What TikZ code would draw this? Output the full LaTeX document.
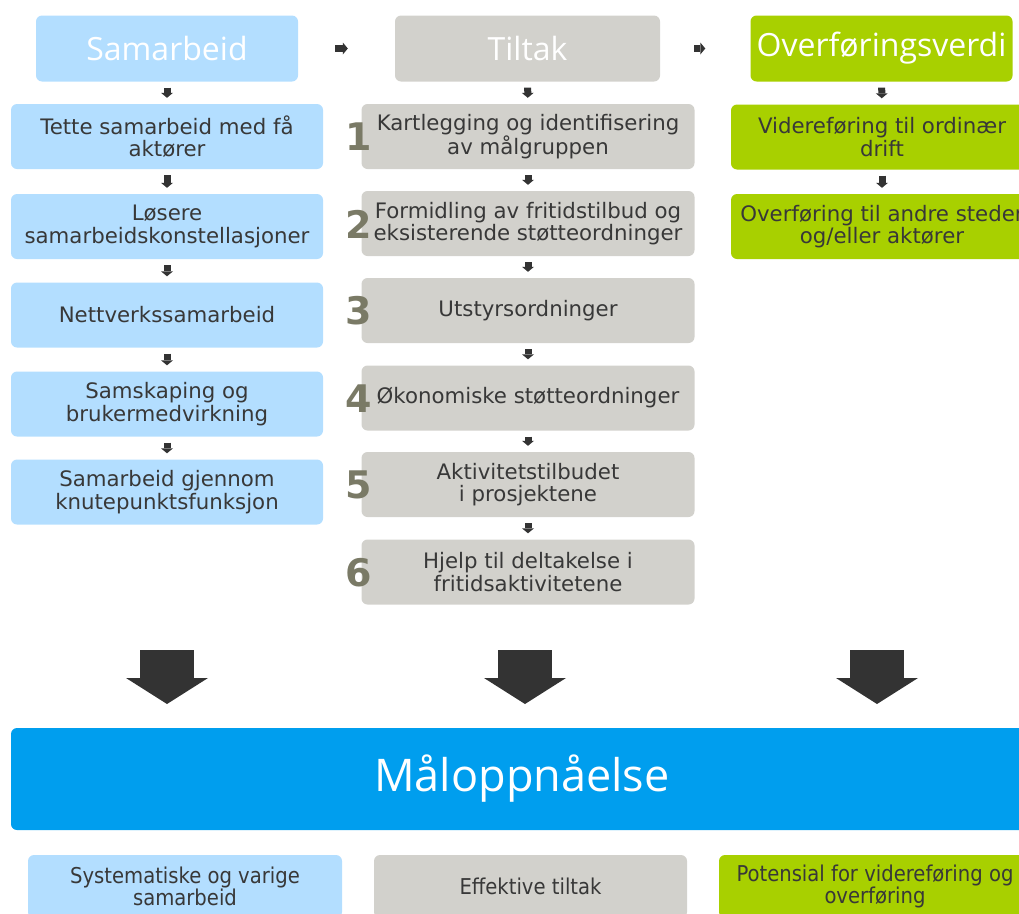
\documentclass[tikz,border=0pt]{standalone}
\usepackage{fontspec}
\setmainfont{DejaVu Sans}
\newfontfamily\headfont{Open Sans}
\newfontfamily\condfont{DejaVu Sans Condensed}
\usetikzlibrary{arrows.meta}

\definecolor{sblue}{HTML}{B3DEFF}
\definecolor{tgray}{HTML}{D2D1CC}
\definecolor{ogreen}{HTML}{A8D000}
\definecolor{barblue}{HTML}{009EEE}
\definecolor{ink}{HTML}{383838}
\definecolor{arrowdark}{HTML}{333333}
\definecolor{numcol}{HTML}{7A7A66}

\tikzset{
  box/.style={rounded corners=6pt, inner sep=0pt, align=center, text=ink,
    minimum height=65pt, font=\fontsize{21.3}{22.5}\selectfont},
  colA/.style={box, fill=sblue, minimum width=312pt},
  colB/.style={box, fill=tgray, minimum width=333pt},
  colC/.style={box, fill=ogreen, minimum width=302pt},
  head/.style={rounded corners=6pt, inner sep=0pt, minimum height=66pt,
    text=white, font=\headfont\fontsize{32}{36}\selectfont},
  num/.style={inner sep=0pt, text=numcol, font=\bfseries\fontsize{38}{40}\selectfont},
  result/.style={rounded corners=6pt, inner sep=0pt, align=center, text=ink,
    minimum height=63pt, font=\condfont\fontsize{21.8}{21.8}\selectfont},
  smallarr/.style={draw=arrowdark, line width=7pt,
    -{Triangle[length=5pt,width=12pt,line width=0pt]},
    shorten <=6pt, shorten >=6pt},
  bigarr/.style={draw=arrowdark, line width=54pt,
    -{Triangle[length=26pt,width=82pt,line width=0pt]}},
}

\begin{document}
\begin{tikzpicture}[x=1pt,y=-1pt]
\useasboundingbox (0,0) rectangle (1019,913);
\clip (0,0) rectangle (1019,913);

% column headings
\node[head, fill=sblue,  minimum width=262pt] (h1) at (167,48.5)   {Samarbeid};
\node[head, fill=tgray,  minimum width=265pt] (h2) at (527.5,48.5) {Tiltak};
\node[head, fill=ogreen, minimum width=262pt] (h3) at (881.5,48.5) {Overføringsverdi};

\draw[smallarr, shorten <=37pt, shorten >=47pt] (h1) -- (h2);
\draw[smallarr, shorten <=34pt, shorten >=45pt] (h2) -- (h3);

% Samarbeid column
\node[colA] (a1) at (167,136.5) {Tette samarbeid med få\\aktører};
\node[colA] (a2) at (167,226.5) {Løsere\\samarbeidskonstellasjoner};
\node[colA] (a3) at (167,315)   {Nettverkssamarbeid};
\node[colA] (a4) at (167,404)   {Samskaping og\\brukermedvirkning};
\node[colA] (a5) at (167,492)   {Samarbeid gjennom\\knutepunktsfunksjon};

\draw[smallarr] (h1) -- (a1);
\draw[smallarr] (a1) -- (a2);
\draw[smallarr] (a2) -- (a3);
\draw[smallarr] (a3) -- (a4);
\draw[smallarr] (a4) -- (a5);

% Tiltak column
\node[colB] (b1) at (528,136.5) {Kartlegging og identifisering\\av målgruppen};
\node[colB] (b2) at (528,223.5) {Formidling av fritidstilbud og\\eksisterende støtteordninger};
\node[colB] (b3) at (528,310.5) {Utstyrsordninger};
\node[colB] (b4) at (528,398)   {Økonomiske støtteordninger};
\node[colB] (b5) at (528,484.5) {Aktivitetstilbudet\\i prosjektene};
\node[colB] (b6) at (528,572)   {Hjelp til deltakelse i\\fritidsaktivitetene};

\draw[smallarr] (h2) -- (b1);
\draw[smallarr] (b1) -- (b2);
\draw[smallarr] (b2) -- (b3);
\draw[smallarr] (b3) -- (b4);
\draw[smallarr] (b4) -- (b5);
\draw[smallarr] (b5) -- (b6);

% step numbers
\node[num] (n1) at (359,137)   {1};
\node[num] (n2) at (359,224)   {2};
\node[num] (n3) at (359,311)   {3};
\node[num] (n4) at (359,398.5) {4};
\node[num] (n5) at (359,485)   {5};
\node[num] (n6) at (359,572.5) {6};

% Overføringsverdi column
\node[colC] (c1) at (882,137)   {Videreføring til ordinær\\drift};
\node[colC] (c2) at (882,226.5) {Overføring til andre steder\\og/eller aktører};

\draw[smallarr] (h3) -- (c1);
\draw[smallarr] (c1) -- (c2);

% big arrows into the goal bar
\coordinate (p1) at (167,650); \coordinate (q1) at (167,704);
\coordinate (p2) at (525,650); \coordinate (q2) at (525,704);
\coordinate (p3) at (877,650); \coordinate (q3) at (877,704);
\draw[bigarr] (p1) -- (q1);
\draw[bigarr] (p2) -- (q2);
\draw[bigarr] (p3) -- (q3);

% goal bar
\node[rounded corners=6pt, fill=barblue, inner sep=0pt, minimum width=1022pt,
  minimum height=102pt, text=white, font=\headfont\fontsize{45}{50}\selectfont]
  (goal) at (522,779) {Måloppnåelse};

% outcomes
\node[result, fill=sblue,  minimum width=314pt] (r1) at (185,886.5)   {Systematiske og varige\\samarbeid};
\node[result, fill=tgray,  minimum width=313pt] (r2) at (530.5,886.5) {Effektive tiltak};
\node[result, fill=ogreen, minimum width=312pt] (r3) at (875,886.5)   {Potensial for videreføring og\\overføring};
\end{tikzpicture}
\end{document}
